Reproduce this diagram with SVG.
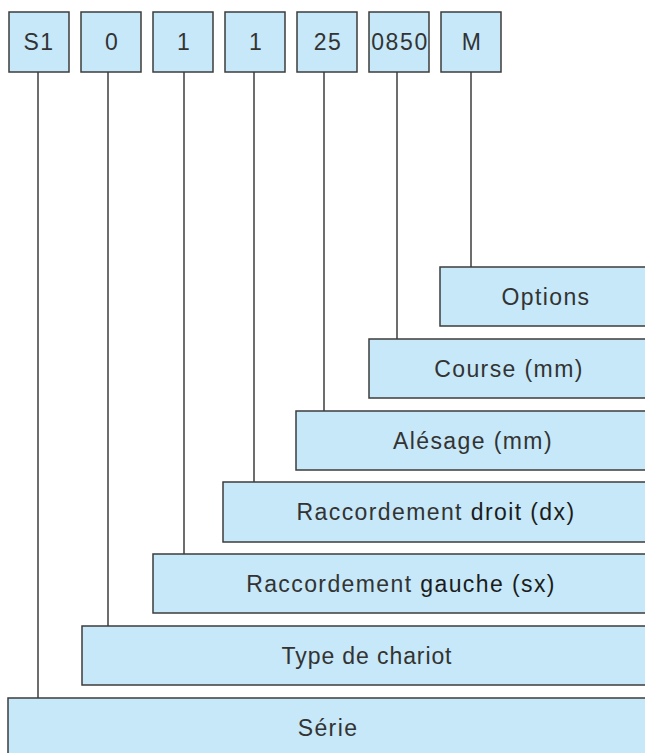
<svg xmlns="http://www.w3.org/2000/svg" width="645" height="753" viewBox="0 0 645 753">
<style>
.box{fill:#c6e8f8;stroke:#3c3c3c;stroke-width:1.5}
.t{font-family:"Liberation Sans",Arial,sans-serif;font-size:23px;fill:#333;text-anchor:middle;letter-spacing:1.4px}
.d{fill:#1c1c1c}
.c{stroke:#3c3c3c;stroke-width:1.5;fill:none}
</style>
<rect width="645" height="753" fill="#fff"/>
<g id="connectors">
<line class="c" x1="38" y1="72" x2="38" y2="698"/>
<line class="c" x1="108" y1="72" x2="108" y2="626"/>
<line class="c" x1="184" y1="72" x2="184" y2="554"/>
<line class="c" x1="254" y1="72" x2="254" y2="482"/>
<line class="c" x1="324" y1="72" x2="324" y2="411"/>
<line class="c" x1="397" y1="72" x2="397" y2="339"/>
<line class="c" x1="471" y1="72" x2="471" y2="267"/>
</g>
<g id="code-S1"><rect class="box" x="9" y="12" width="60" height="60"/><text class="t" x="39" y="50">S1</text></g>
<g id="code-0"><rect class="box" x="81" y="12" width="60" height="60"/><text class="t" x="112" y="50">0</text></g>
<g id="code-1a"><rect class="box" x="153" y="12" width="60" height="60"/><text class="t" x="184" y="50">1</text></g>
<g id="code-1b"><rect class="box" x="225" y="12" width="60" height="60"/><text class="t" x="256" y="50">1</text></g>
<g id="code-25"><rect class="box" x="297" y="12" width="60" height="60"/><text class="t" x="328" y="50">25</text></g>
<g id="code-0850"><rect class="box" x="369" y="12" width="60" height="60"/><text class="t" x="400" y="50" style="letter-spacing:1.6px">0850</text></g>
<g id="code-M"><rect class="box" x="441" y="12" width="60" height="60"/><text class="t" x="472" y="50">M</text></g>
<g id="options"><rect class="box" x="440" y="267" width="215" height="59"/><text class="t" x="546" y="305">Options</text></g>
<g id="course"><rect class="box" x="369" y="339" width="286" height="59"/><text class="t" x="509" y="377">Course (mm)</text></g>
<g id="alesage"><rect class="box" x="296" y="411" width="359" height="59"/><text class="t" x="473" y="449">Alésage (mm)</text></g>
<g id="droit"><rect class="box" x="223" y="482" width="432" height="60"/><text class="t" x="436" y="520">Raccordement <tspan class="d">droit (dx)</tspan></text></g>
<g id="gauche"><rect class="box" x="153" y="554" width="502" height="59"/><text class="t" x="401" y="592">Raccordement <tspan class="d">gauche (sx)</tspan></text></g>
<g id="chariot"><rect class="box" x="82" y="626" width="573" height="59"/><text class="t" x="367" y="664" style="letter-spacing:0.9px">Type de chariot</text></g>
<g id="serie"><rect class="box" x="8" y="698" width="647" height="70"/><text class="t" x="328" y="736">Série</text></g>
</svg>
